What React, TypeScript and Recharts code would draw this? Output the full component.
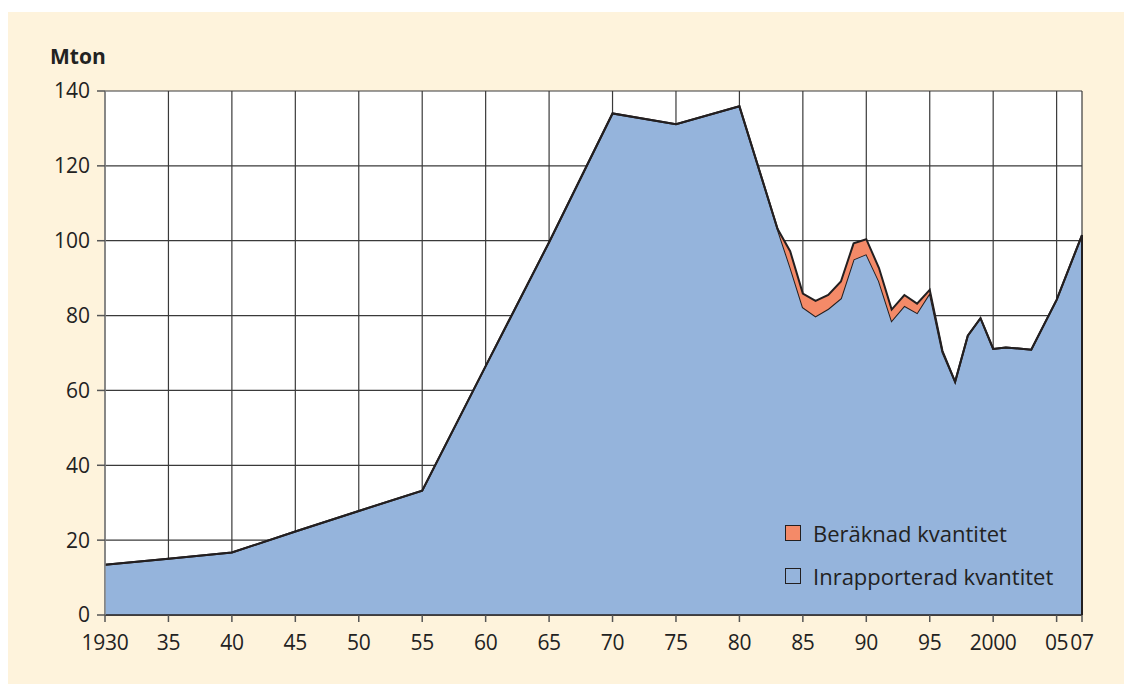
import React from 'react';
import { AreaChart, Area, XAxis, YAxis, CartesianGrid, ReferenceLine } from 'recharts';

const years = [1930, 1935, 1940, 1945, 1950, 1955, 1960, 1965, 1970, 1975, 1980, 1983, 1984, 1985, 1986, 1987, 1988, 1989, 1990, 1991, 1992, 1993, 1994, 1995, 1996, 1997, 1998, 1999, 2000, 2001, 2002, 2003, 2005, 2007];
const reported = [13.4, 15.0, 16.7, 22.3, 27.8, 33.2, 66.5, 99.6, 134.0, 131.1, 135.9, 103.2, 93.0, 82.2, 79.8, 81.8, 84.6, 95.0, 96.4, 89.2, 78.6, 82.6, 80.7, 86.0, 70.2, 62.3, 74.6, 79.3, 71.1, 71.5, 71.2, 70.9, 84.2, 101.5];
const estimated = [0, 0, 0, 0, 0, 0, 0, 0, 0, 0, 0, 0, 4.2, 3.7, 4.1, 3.7, 4.5, 4.3, 4.0, 3.5, 3.0, 2.9, 2.5, 0.9, 0.4, 0, 0, 0, 0, 0, 0, 0, 0, 0];

const xTicks = [1930, 1935, 1940, 1945, 1950, 1955, 1960, 1965, 1970, 1975, 1980, 1985, 1990, 1995, 2000, 2005, 2007];
const xTickLabels = ['1930', '35', '40', '45', '50', '55', '60', '65', '70', '75', '80', '85', '90', '95', '2000', '05', '07'];
const yTicks = [0, 20, 40, 60, 80, 100, 120, 140];

const seriesNames = ['Beräknad kvantitet', 'Inrapporterad kvantitet'];
const unitLabel = 'Mton';

const data = years.map((y, i) => ({ year: y, reported: reported[i], estimated: estimated[i] }));

const FONT = '"Open Sans", sans-serif';
const CREAM = '#fef3dc';
const BLUE = '#95b4dc';
const ORANGE = '#f48a68';
const DARK = '#231f20';

export default function App() {
  return (
    <div style={{ marginTop: 4, width: 1124, height: 672, background: CREAM, position: 'relative', fontFamily: FONT }}>
      <div style={{ position: 'absolute', left: 42, top: 34, fontSize: 21, fontWeight: 700, color: '#222', lineHeight: 1 }}>{unitLabel}</div>
      <AreaChart width={1124} height={672} data={data} margin={{ top: 79, right: 50, bottom: 39, left: 37 }}>
        <CartesianGrid fill="#ffffff" stroke="#3a3a3a" strokeWidth={1.2} horizontalValues={yTicks} />
        <XAxis
          dataKey="year"
          type="number"
          domain={[1930, 2007]}
          ticks={xTicks}
          interval={0}
          tickFormatter={(v) => xTickLabels[xTicks.indexOf(v)]}
          tickSize={7}
          tickMargin={13}
          height={30}
          axisLine={{ stroke: DARK, strokeWidth: 1.5 }}
          tickLine={{ stroke: '#555', strokeWidth: 1.5 }}
          tick={{ fill: '#222', fontSize: 21, fontFamily: FONT, letterSpacing: -0.3 }}
        />
        <YAxis
          type="number"
          domain={[0, 140]}
          ticks={yTicks}
          interval={0}
          width={60}
          tickSize={8}
          tickMargin={7}
          axisLine={{ stroke: '#888', strokeWidth: 1.5 }}
          tickLine={{ stroke: '#555', strokeWidth: 1.5 }}
          tick={{ fill: '#222', fontSize: 21, fontFamily: FONT }}
        />
        <Area type="linear" dataKey="reported" stackId="a" fill={BLUE} fillOpacity={1} stroke={DARK} strokeWidth={2} isAnimationActive={false} name={seriesNames[1]} />
        <Area type="linear" dataKey="estimated" stackId="a" fill={ORANGE} fillOpacity={1} stroke={DARK} strokeWidth={2} isAnimationActive={false} name={seriesNames[0]} />
        <ReferenceLine segment={[{ x: 2007, y: 0 }, { x: 2007, y: reported[reported.length - 1] }]} stroke={DARK} strokeWidth={2} />
      </AreaChart>
      <div style={{ position: 'absolute', left: 777, top: 499, fontSize: 22, color: '#222' }}>
        {[ORANGE, BLUE].map((c, i) => (
          <div key={i} style={{ display: 'flex', alignItems: 'center', height: 43 }}>
            <div style={{ width: 14, height: 14, background: c, border: `1.5px solid ${DARK}`, marginRight: 12 }} />
            <span>{seriesNames[i]}</span>
          </div>
        ))}
      </div>
    </div>
  );
}
